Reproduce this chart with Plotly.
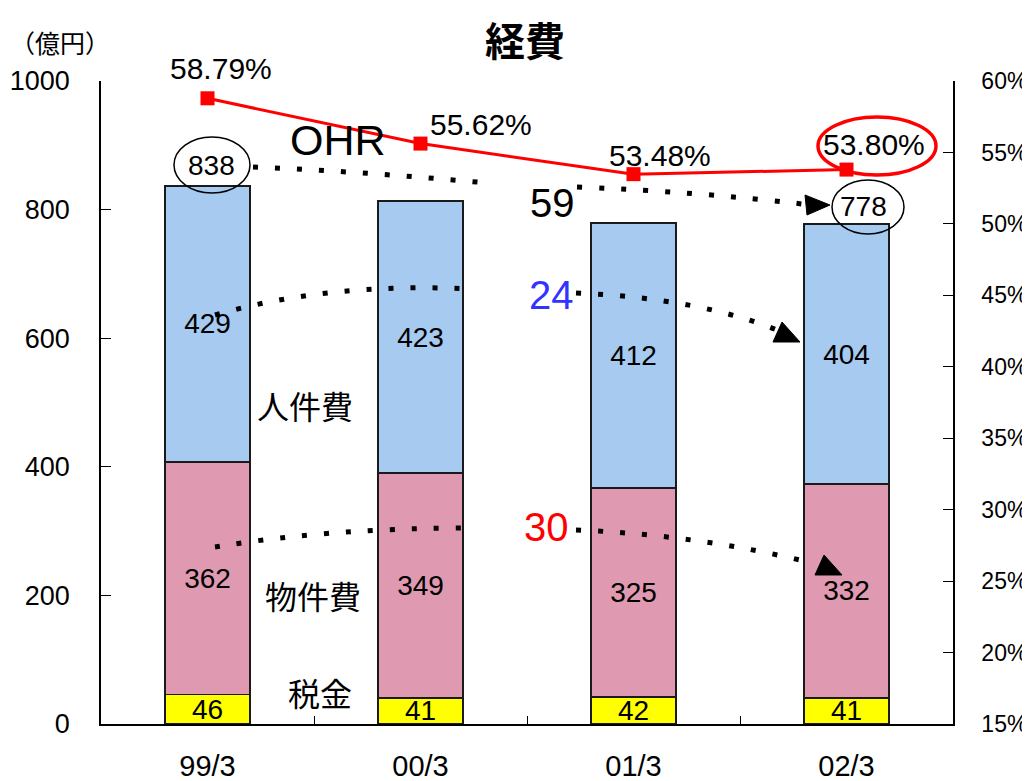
import plotly.graph_objects as go

# ---------------- data ----------------
categories = ["99/3", "00/3", "01/3", "02/3"]
tax = [46, 41, 42, 41]            # 税金
material = [362, 349, 325, 332]   # 物件費
personnel = [429, 423, 412, 404]  # 人件費
ohr = [58.79, 55.62, 53.48, 53.80]
totals = [838, 813, 779, 778]
diff_total, diff_personnel, diff_material = 59, 24, 30

# ---------------- geometry helpers (pixel -> paper) ----------------
# the page body has an 8px margin, so the figure is drawn 8px in from the window corner
OFF = 8
W, H = 1030 - OFF, 781 - OFF
L, R, T, B = 101, 953, 81, 724   # plot area in window pixels


def px(x, y):
    return (x - L) / (R - L), (B - y) / (B - T)


def path(cmds):
    out = []
    for c in cmds:
        if isinstance(c, str):
            out.append(c)
        else:
            x, y = px(*c)
            out.append(f"{x:.5f},{y:.5f}")
    return " ".join(out)


FONT = "Liberation Sans, Arial, sans-serif"
CJK = "Noto Sans CJK JP, sans-serif"

fig = go.Figure()

bar_common = dict(
    x=categories,
    width=0.4,
    marker_line=dict(color="#1a1a1a", width=1.8),
    textposition="inside",
    insidetextanchor="middle",
    constraintext="none",
    textfont=dict(family=FONT, size=28, color="black"),
    texttemplate="%{y}",
    hoverinfo="skip",
)
fig.add_trace(go.Bar(y=tax, name="税金", marker_color="#ffff00", **bar_common))
fig.add_trace(go.Bar(y=material, name="物件費", marker_color="#df9ab1", **bar_common))
fig.add_trace(go.Bar(y=personnel, name="人件費", marker_color="#a6caf0", **bar_common))

fig.add_trace(go.Scatter(
    x=categories, y=ohr, yaxis="y2", mode="lines+markers",
    line=dict(color="#ff0000", width=3),
    marker=dict(symbol="square", size=14, color="#ff0000"),
    name="OHR", hoverinfo="skip",
))

annotations = []
# OHR percentage labels
offs = [(13, 30), (60, 19), (26, 19), (27, 25)]
for c, v, (dx, dy) in zip(categories, ohr, offs):
    annotations.append(dict(x=c, y=v, xref="x", yref="y2", text=f"{v:.2f}%",
                            showarrow=False, xshift=dx, yshift=dy,
                            font=dict(family=FONT, size=30, color="black")))

# total labels (first and last)
for i, (dx, dy) in [(0, (4, 20)), (3, (17, 17))]:
    annotations.append(dict(x=categories[i], y=totals[i], xref="x", yref="y",
                            text=str(totals[i]), showarrow=False, xshift=dx, yshift=dy,
                            font=dict(family=FONT, size=28, color="black")))


def txt(x, y, text, size, color="black", family=FONT, weight="normal"):
    xx, yy = px(x, y)
    annotations.append(dict(x=xx, y=yy, xref="paper", yref="paper", text=text,
                            showarrow=False, xanchor="center", yanchor="middle",
                            font=dict(family=family, size=size, color=color, weight=weight)))


txt(525, 39, "経費", 40, family=CJK, weight="bold")
txt(60, 42, "（億円）", 25, family=CJK)
txt(338, 140, "OHR", 43)
txt(552, 203, str(diff_total), 40)
txt(551, 295, str(diff_personnel), 40, color="#3333ff")
txt(546, 527, str(diff_material), 40, color="#ff0000")
txt(305, 405, "人件費", 32, family=CJK)
txt(313, 595, "物件費", 32, family=CJK)
txt(320, 692, "税金", 32, family=CJK)

shapes = []
dot = dict(color="black", width=5, dash="5px,17px")


def curve(cmds):
    shapes.append(dict(type="path", xref="paper", yref="paper", path=path(cmds),
                       line=dot, layer="above"))


def tri(a, b, c):
    shapes.append(dict(type="path", xref="paper", yref="paper",
                       path=path(["M", a, "L", b, "L", c, "Z"]),
                       fillcolor="black", line=dict(color="black", width=1), layer="above"))


def ellipse(cx, cy, w, h, color, width):
    x0, y0 = px(cx - w / 2, cy + h / 2)
    x1, y1 = px(cx + w / 2, cy - h / 2)
    shapes.append(dict(type="circle", xref="paper", yref="paper", x0=x0, y0=y0,
                       x1=x1, y1=y1, line=dict(color=color, width=width), layer="above"))


# total trend
curve(["M", (253, 167), "Q", (370, 172), (487, 183)])
curve(["M", (577, 187), "Q", (700, 192), (802, 204)])
tri((830, 205), (805, 195), (807, 215))
# personnel trend
curve(["M", (215, 315), "Q", (330, 282), (470, 289)])
curve(["M", (576, 293), "Q", (700, 298), (782, 332)])
tri((800, 342), (782, 322), (773, 342))
# material trend
curve(["M", (215, 547), "Q", (330, 528), (470, 528)])
curve(["M", (576, 530), "Q", (700, 535), (812, 563)])
tri((842, 575), (824, 555), (815, 575))

ellipse(212, 165, 76, 56, "black", 1.5)
ellipse(868, 207, 72, 54, "black", 1.5)
ellipse(877, 146, 118, 58, "#ff0000", 3.5)

fig.update_layout(
    width=W, height=H,
    margin=dict(l=L - OFF, r=W - (R - OFF), t=T - OFF, b=H - (B - OFF), pad=0,
                autoexpand=False),
    paper_bgcolor="white", plot_bgcolor="white",
    barmode="stack", showlegend=False,
    font=dict(family=FONT, size=27, color="black"),
    xaxis=dict(type="category", range=[-0.5, 3.5], showline=True, linecolor="black",
               linewidth=1.5, ticks="inside", tickson="boundaries", ticklen=8,
               tickcolor="black", showgrid=False, ticklabelstandoff=15,
               automargin=False, tickfont=dict(family=FONT, size=29)),
    yaxis=dict(range=[0, 1000], dtick=200, showline=True, linecolor="black",
               linewidth=1.5, ticks="inside", ticklen=10, tickcolor="black",
               showgrid=False, zeroline=False, ticklabelstandoff=24,
               automargin=False, tickfont=dict(family=FONT, size=27)),
    yaxis2=dict(range=[15, 60], dtick=5, overlaying="y", side="right", showline=True,
                linecolor="black", linewidth=1.5, ticks="inside", ticklen=10,
                tickcolor="black", showgrid=False, zeroline=False, ticksuffix="%",
                ticklabelstandoff=22, automargin=False,
                tickfont=dict(family=FONT, size=23)),
    annotations=annotations,
    shapes=shapes,
)

fig.write_html("out.html")
